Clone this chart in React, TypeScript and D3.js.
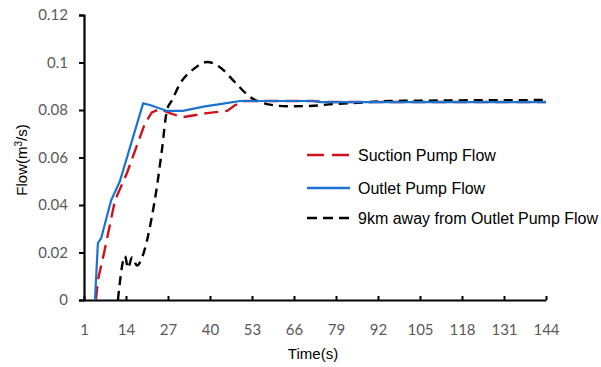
import React, { useRef, useEffect } from "react";
import { select, scaleLinear, axisLeft, axisBottom, line, curveMonotoneX, curveLinear } from "d3";

// x ticks (time, s) and y ticks (flow)
const xTicks = [1, 14, 27, 40, 53, 66, 79, 92, 105, 118, 131, 144];
const yTicks = [0, 0.02, 0.04, 0.06, 0.08, 0.1, 0.12];
const yTickLabels = ["0", "0.02", "0.04", "0.06", "0.08", "0.1", "0.12"];

// Suction Pump Flow
const suctionTime = [4.7, 5.3, 7.2, 10.6, 14.3, 19.9, 22, 24.5, 28, 31.6, 39.1, 45.3, 47.7, 50.8, 72, 75, 144];
const suctionFlow = [0, 0.0084, 0.0198, 0.042, 0.0535, 0.0745, 0.079, 0.0804, 0.0785, 0.077, 0.0787, 0.0796, 0.082, 0.0838, 0.0838, 0.0834, 0.0834];

// Outlet Pump Flow
const outletTime = [4.4, 5.3, 6.3, 9.4, 12.1, 19.3, 21.4, 26.7, 31.6, 38.4, 43.1, 49.3, 71.9, 74, 144];
const outletFlow = [0, 0.024, 0.026, 0.042, 0.05, 0.0828, 0.0821, 0.0796, 0.0796, 0.0815, 0.0825, 0.0838, 0.0838, 0.0833, 0.0833];

// 9km away from Outlet Pump Flow
const farTime = [11.5, 13.7, 14.6, 15.9, 17.4, 19, 22, 23.6, 25.1, 26.7, 28.2, 30.7, 34.7, 39.1, 43.1, 47.1, 52.4, 57.6, 63.8, 70.9, 78.1, 85.5, 95.7, 144];
const farFlow = [0, 0.0185, 0.0135, 0.018, 0.0145, 0.018, 0.035, 0.048, 0.063, 0.08, 0.084, 0.091, 0.097, 0.1002, 0.098, 0.0926, 0.0855, 0.0825, 0.0816, 0.0817, 0.0825, 0.083, 0.0838, 0.0842];

const legendNames = ["Suction Pump Flow", "Outlet Pump Flow", "9km away from Outlet Pump Flow"];

const App = () => {
    const svgRef = useRef(null);
    const width = 601;
    const height = 367;
    const tickFont = "Lato, 'Open Sans', sans-serif";
    const textFont = "'Liberation Sans', Arial, sans-serif";

    useEffect(() => {
        const svg = select(svgRef.current);
        svg.selectAll("*").remove();

        const x = scaleLinear().domain([1, 144]).range([84, 546]);
        const y = scaleLinear().domain([0, 0.12]).range([300, 15]);

        // y axis
        const yAxis = axisLeft(y)
            .tickValues(yTicks)
            .tickFormat((d, i) => yTickLabels[i])
            .tickSize(5)
            .tickPadding(11);
        const gy = svg.append("g").attr("transform", "translate(84,0)").call(yAxis);
        gy.select(".domain").attr("stroke", "#000").attr("stroke-width", 2.2);
        gy.selectAll(".tick line").attr("stroke", "#000").attr("stroke-width", 2);
        gy.selectAll(".tick text")
            .attr("fill", "#595959")
            .style("font-family", tickFont)
            .style("font-size", "15px");

        // x axis, ticks pointing inward
        const xAxis = axisBottom(x)
            .tickValues(xTicks)
            .tickFormat((d) => String(d))
            .tickSizeInner(-4)
            .tickSizeOuter(0)
            .tickPadding(24);
        const gx = svg.append("g").attr("transform", "translate(0,300)").call(xAxis);
        gx.select(".domain").attr("stroke", "#000").attr("stroke-width", 2.2);
        gx.selectAll(".tick line").attr("stroke", "#000").attr("stroke-width", 2);
        gx.selectAll(".tick text")
            .attr("fill", "#595959")
            .style("font-family", tickFont)
            .style("font-size", "15px");

        // axis titles
        svg.append("text")
            .attr("x", 313).attr("y", 359)
            .attr("text-anchor", "middle")
            .style("font-family", textFont).style("font-size", "15px")
            .attr("fill", "#000")
            .text("Time(s)");

        const yt = svg.append("text")
            .attr("transform", "translate(27,160) rotate(-90)")
            .attr("text-anchor", "middle")
            .style("font-family", textFont).style("font-size", "15px")
            .attr("fill", "#000");
        yt.append("tspan").text("Flow(m");
        yt.append("tspan").attr("dy", -5).style("font-size", "10px").text("3");
        yt.append("tspan").attr("dy", 5).text("/s)");

        const series = [
            { t: suctionTime, v: suctionFlow, color: "#d0121b", dash: "14,7", w: 2.4, curve: curveLinear },
            { t: farTime, v: farFlow, color: "#000", dash: "9,6", w: 2.4, curve: curveMonotoneX },
            { t: outletTime, v: outletFlow, color: "#1a73d0", dash: null, w: 2.2, curve: curveLinear },
        ];

        series.forEach((s) => {
            const pts = s.t.map((t, i) => [t, s.v[i]]);
            const gen = line()
                .x((d) => x(d[0]))
                .y((d) => y(d[1]))
                .curve(s.curve);
            svg.append("path")
                .datum(pts)
                .attr("d", gen)
                .attr("fill", "none")
                .attr("stroke", s.color)
                .attr("stroke-width", s.w)
                .attr("stroke-dasharray", s.dash);
        });

        // legend
        const legend = [
            { name: legendNames[0], color: "#d0121b", dash: "17,8", y: 155 },
            { name: legendNames[1], color: "#1a73d0", dash: null, y: 188 },
            { name: legendNames[2], color: "#000", dash: "10,6", y: 218 },
        ];
        legend.forEach((l) => {
            svg.append("line")
                .attr("x1", 307).attr("x2", 350)
                .attr("y1", l.y).attr("y2", l.y)
                .attr("stroke", l.color)
                .attr("stroke-width", 2.4)
                .attr("stroke-dasharray", l.dash);
            svg.append("text")
                .attr("x", 358).attr("y", l.y + 6)
                .style("font-family", textFont).style("font-size", "16px")
                .attr("fill", "#000")
                .text(l.name);
        });
    }, []);

    return (
        <svg
            ref={svgRef}
            width={width}
            height={height}
            style={{ position: "absolute", left: 0, top: 0, background: "#fff" }}
        />
    );
};

export default App;
